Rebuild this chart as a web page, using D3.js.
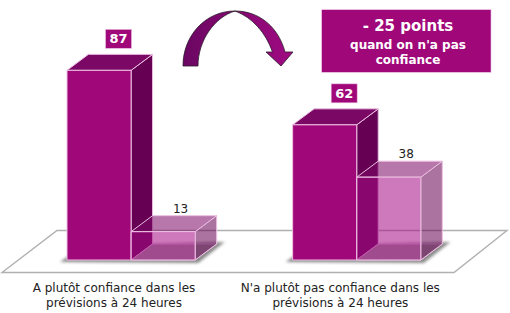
<!DOCTYPE html>
<html lang="fr">
<head>
<meta charset="utf-8">
<title>Confiance dans les prévisions à 24 heures</title>
<script src="https://cdn.jsdelivr.net/npm/d3@7/dist/d3.min.js"></script>
<style>
  html, body { margin: 0; padding: 0; background: #fff; }
  svg { display: block; }
  text { font-family: "DejaVu Sans", Verdana, sans-serif; }
</style>
</head>
<body>
<svg id="chart" width="510" height="313"></svg>
<script>
// Chart values
const categories = [
  ["A plutôt confiance dans les", "prévisions à 24 heures"],
  ["N'a plutôt pas confiance dans les", "prévisions à 24 heures"]
];
const solidValues = [87, 62];
const glassValues = [13, 38];
const calloutLines = ["- 25 points", "quand on n'a pas", "confiance"];

// Oblique projection of the columns
const depthX = 21.5, depthY = -16;

const svg = d3.select("#chart");
const defs = svg.append("defs");

defs.append("filter").attr("id", "soft")
  .attr("x", "-20%").attr("y", "-50%").attr("width", "140%").attr("height", "200%")
  .append("feGaussianBlur").attr("stdDeviation", 1.6);

const arrowFill = defs.append("linearGradient").attr("id", "arrowFill")
  .attr("x1", 0).attr("x2", 1).attr("y1", 0).attr("y2", 0);
arrowFill.append("stop").attr("offset", "0%").attr("stop-color", "#6a0762");
arrowFill.append("stop").attr("offset", "100%").attr("stop-color", "#a00a82");

const y = d3.scaleLinear().domain([0, 100]).range([260, 42]);
const x = d3.scaleBand().domain(d3.range(categories.length))
  .range([67, 420.8]).paddingInner(0.432);
const inner = d3.scaleBand().domain(["solid", "glass"]).range([0, x.bandwidth()]);

// Floor plane
svg.append("path")
  .attr("d", d3.line()([[2, 272.5], [57, 230.5], [507, 230.5], [454, 272.5]]) + "Z")
  .attr("fill", "none").attr("stroke", "#b0b0b0").attr("stroke-width", 1.4);

const face = {
  front: "#a60b85",
  solidFront: "#a0087a",
  side: "#650052",
  top: "#7c0866",
  bottom: "#999999",
  edge: "#ecc0e2"
};
const poly = d3.line();

// Contact shadow under each pair of columns
categories.forEach((_, i) => {
  const x0 = x(i), x1 = x0 + x.bandwidth();
  svg.append("path")
    .attr("d", poly([
      [x0 - 7, 262], [x0 + depthX - 6, 260 + depthY + 2],
      [x1 + depthX + 8, 260 + depthY - 2], [x1 + 3, 263]
    ]) + "Z")
    .attr("fill", "#8a8a8a").attr("filter", "url(#soft)");
});

function column(group, left, width, value, opacity) {
  const right = left + width, top = y(value), base = y(0);
  const edges = { stroke: face.edge, "stroke-width": 1, "stroke-linejoin": "round" };
  const draw = (points, fill, fillOpacity) => {
    const p = group.append("path").attr("d", poly(points) + "Z")
      .attr("fill", fill).attr("fill-opacity", fillOpacity);
    Object.entries(edges).forEach(([k, v]) => p.attr(k, v));
  };
  if (opacity < 1) {
    draw([[left, base], [right, base], [right + depthX, base + depthY], [left + depthX, base + depthY]],
      face.bottom, 1);
  }
  draw([[right, top], [right + depthX, top + depthY], [right + depthX, base + depthY], [right, base]],
    face.side, opacity);
  draw([[left, top], [left + depthX, top + depthY], [right + depthX, top + depthY], [right, top]],
    face.top, opacity);
  draw([[left, top], [right, top], [right, base], [left, base]],
    opacity < 1 ? face.front : face.solidFront, opacity);
}

categories.forEach((_, i) => {
  const g = svg.append("g");
  const solidLeft = x(i) + inner("solid");
  const glassLeft = x(i) + inner("glass");
  const w = inner.bandwidth();
  column(g, solidLeft, w, solidValues[i], 1);
  column(g, glassLeft, w, glassValues[i], 0.55);

  // Value badge above the solid column
  const cx = solidLeft + w / 2 + 19.5;
  const badgeBottom = y(solidValues[i]) + depthY - 6;
  g.append("rect")
    .attr("x", cx - 13).attr("y", badgeBottom - 19).attr("width", 26).attr("height", 19)
    .attr("fill", face.solidFront).attr("stroke", "#ecc0e2").attr("stroke-width", 0.6);
  g.append("text")
    .attr("x", cx).attr("y", badgeBottom - 5)
    .attr("text-anchor", "middle").attr("font-size", 13).attr("font-weight", "bold")
    .attr("fill", "#fff").text(solidValues[i]);

  // Plain value above the translucent column
  g.append("text")
    .attr("x", glassLeft + w / 2 + 17.5).attr("y", y(glassValues[i]) + depthY - 3)
    .attr("text-anchor", "middle").attr("font-size", 12)
    .attr("fill", "#222").text(glassValues[i]);

  // Two-line category label
  const labelX = i === 0 ? x(i) + 47 : x(i) + 47.7;
  categories[i].forEach((line, k) => {
    g.append("text")
      .attr("x", labelX).attr("y", 292 + k * 15)
      .attr("text-anchor", "middle").attr("font-size", 12)
      .attr("fill", "#222").text(line);
  });
});

// Curved arrow from the first group towards the second
svg.append("path")
  .attr("d", "M183,66 C183,36 205,11 235,11 C261,11 279,29 285,52 L293,52 L281,66 L266,52 L272.5,52 C266,33 252,17 235,11 C215,17 198,40 198,66 Z")
  .attr("fill", "url(#arrowFill)").attr("stroke", "#2a1a28").attr("stroke-width", 0.8);

// Callout box
svg.append("rect")
  .attr("x", 321.7).attr("y", 9.7).attr("width", 169.3).attr("height", 62.6)
  .attr("fill", face.solidFront).attr("stroke", "#ecc0e2").attr("stroke-width", 0.6);
calloutLines.forEach((line, k) => {
  svg.append("text")
    .attr("x", 408).attr("y", [31, 49, 64][k])
    .attr("text-anchor", "middle")
    .attr("font-size", k === 0 ? 15 : 12)
    .attr("font-weight", "bold")
    .attr("fill", "#fff").text(line);
});
</script>
</body>
</html>
